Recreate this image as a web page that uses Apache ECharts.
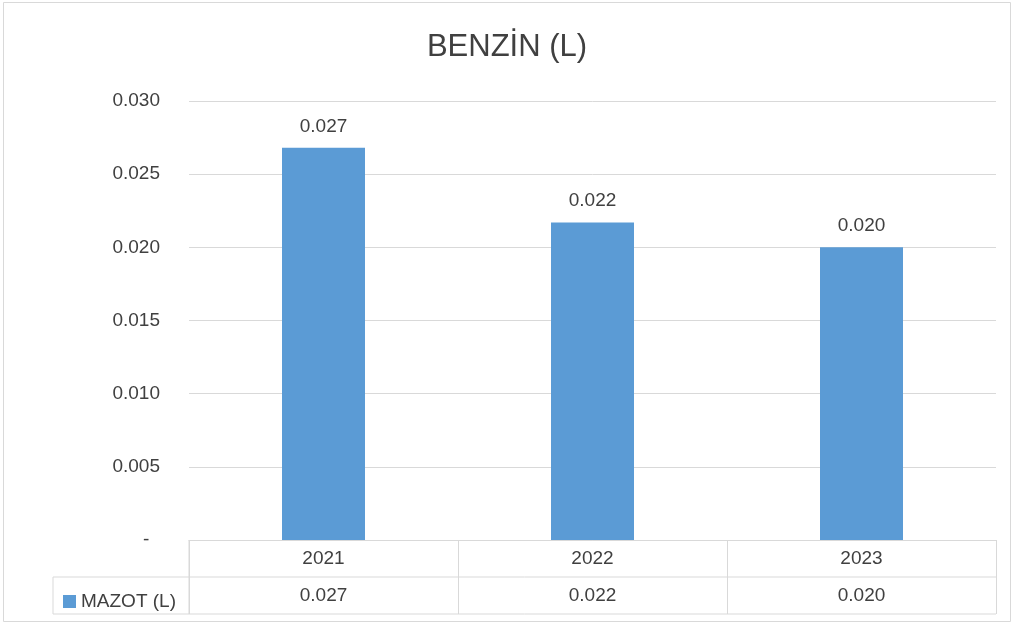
<!DOCTYPE html>
<html>
<head>
<meta charset="utf-8">
<script src="https://cdn.jsdelivr.net/npm/echarts@6/dist/echarts.min.js"></script>
<style>
  html, body { margin: 0; padding: 0; background: #fff; }
  #chart { width: 1014px; height: 628px; }
</style>
</head>
<body>
<div id="chart"></div>
<script>
var years = ['2021', '2022', '2023'];
var mazot = [0.0268, 0.0217, 0.0200];
var tableValues = ['0.027', '0.022', '0.020'];
var yTicks = [0, 0.005, 0.010, 0.015, 0.020, 0.025, 0.030];

var font = 'Liberation Sans';
var textColor = '#404040';
var lineColor = '#d9d9d9';

var chart = echarts.init(document.getElementById('chart'));

var option = {
    backgroundColor: '#fff',
    textStyle: { fontFamily: font },
    title: {
        text: 'BENZİN (L)',
        left: 'center',
        top: 27,
        textStyle: { fontFamily: font, fontSize: 31, fontWeight: 'normal', color: textColor }
    },
    legend: {
        left: 58,
        top: 587,
        icon: 'rect',
        itemWidth: 13,
        itemHeight: 13,
        textStyle: { fontFamily: font, fontSize: 19, color: textColor },
        data: ['MAZOT (L)']
    },
    grid: { left: 189, right: 18, top: 101, bottom: 88 },
    xAxis: [
        {
            type: 'category',
            data: years,
            axisLine: { show: true, lineStyle: { color: lineColor } },
            axisTick: { show: true, interval: 0, length: 74, lineStyle: { color: lineColor } },
            axisLabel: { margin: 9, fontSize: 19, color: textColor, fontFamily: font }
        },
        {
            type: 'category',
            data: years,
            position: 'bottom',
            offset: 37,
            axisLine: { show: false },
            axisTick: { show: false },
            axisLabel: {
                margin: 9, fontSize: 19, color: textColor, fontFamily: font,
                formatter: function (v, i) { return tableValues[i]; }
            }
        }
    ],
    yAxis: {
        type: 'value',
        min: yTicks[0],
        max: yTicks[yTicks.length - 1],
        interval: 0.005,
        axisLine: { show: false },
        axisTick: { show: false },
        splitLine: { lineStyle: { color: lineColor } },
        axisLabel: {
            margin: 29, fontSize: 19, color: textColor, fontFamily: font,
            formatter: function (v) { return v === 0 ? '-  ' : v.toFixed(3); }
        }
    },
    series: [{
        name: 'MAZOT (L)',
        type: 'bar',
        data: mazot,
        barWidth: 83,
        itemStyle: { color: '#5b9bd5' },
        label: {
            show: true,
            position: 'top',
            distance: 12,
            fontSize: 19,
            color: textColor,
            fontFamily: font,
            formatter: function (p) { return p.value.toFixed(3); }
        }
    }]
};

chart.setOption(option);

// table lines under the plot
var x0 = chart.convertToPixel({ xAxisIndex: 0 }, years[0]);
var half = (chart.convertToPixel({ xAxisIndex: 0 }, years[1]) - x0) / 2;
var leftX = x0 - half;
var rightX = chart.convertToPixel({ xAxisIndex: 0 }, years[years.length - 1]) + half;
var yBase = chart.convertToPixel({ yAxisIndex: 0 }, 0);
var rowH = 37;
var tableLeft = 53;

var lineStyle = { stroke: lineColor, lineWidth: 1 };
chart.setOption({
    graphic: [
        { type: 'rect', shape: { x: 3.5, y: 2.5, width: 1007, height: 619 }, style: { fill: 'none', stroke: lineColor, lineWidth: 1 }, silent: true },
        { type: 'line', shape: { x1: tableLeft, y1: yBase + rowH, x2: rightX, y2: yBase + rowH }, style: lineStyle },
        { type: 'line', shape: { x1: tableLeft, y1: yBase + rowH * 2, x2: rightX, y2: yBase + rowH * 2 }, style: lineStyle },
        { type: 'line', shape: { x1: tableLeft, y1: yBase + rowH, x2: tableLeft, y2: yBase + rowH * 2 }, style: lineStyle },
        { type: 'line', shape: { x1: leftX, y1: yBase, x2: leftX, y2: yBase + rowH * 2 }, style: lineStyle }
    ]
});
</script>
</body>
</html>
